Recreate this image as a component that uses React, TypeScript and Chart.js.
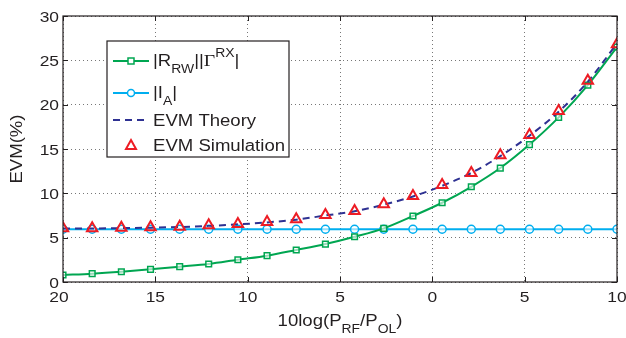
import React, { useEffect, useRef } from "react";
import { Chart, registerables } from "chart.js";

Chart.register(...registerables);

const xValues = [-20, -18.42, -16.84, -15.26, -13.68, -12.11, -10.53, -8.95, -7.37, -5.79, -4.21, -2.63, -1.05, 0.53, 2.11, 3.68, 5.26, 6.84, 8.42, 10];
const rrwGamma = [0.79, 0.94, 1.16, 1.43, 1.73, 2.03, 2.51, 2.97, 3.61, 4.28, 5.1, 6.05, 7.44, 8.94, 10.74, 12.85, 15.5, 18.57, 22.2, 26.5];
const iA = [5.95, 5.95, 5.95, 5.95, 5.95, 5.95, 5.95, 5.95, 5.95, 5.95, 5.95, 5.95, 5.95, 5.95, 5.95, 5.95, 5.95, 5.95, 5.95, 5.95];
const evmTheory = [6.02, 6.04, 6.08, 6.13, 6.2, 6.33, 6.5, 6.72, 7.03, 7.5, 7.98, 8.72, 9.65, 10.85, 12.3, 14.2, 16.5, 19.2, 22.6, 26.9];
const evmSim = [6.05, 6.05, 6.12, 6.17, 6.23, 6.39, 6.54, 6.76, 7.07, 7.55, 8.0, 8.76, 9.7, 10.94, 12.3, 14.3, 16.57, 19.28, 22.7, 26.8];
const xTicks = [-20, -15, -10, -5, 0, 5, 10];
const xTickLabels = ["20", "15", "10", "5", "0", "5", "10"];
const yTicks = [0, 5, 10, 15, 20, 25, 30];
const yTickLabels = ["0", "5", "10", "15", "20", "25", "30"];

const GREEN = "#00a651";
const CYAN = "#00aeef";
const NAVY = "#2e3192";
const RED = "#ed1c24";
const SANS = "'Liberation Sans', Arial, Helvetica, sans-serif";
const SERIF = "'Liberation Serif', 'Times New Roman', serif";
const SX = 1.16;

type Seg = { t: string; size: number; dy: number; serif?: boolean };

function segWidth(ctx: CanvasRenderingContext2D, segs: Seg[]) {
  let w = 0;
  for (const s of segs) {
    ctx.font = `${s.size}px ${s.serif ? SERIF : SANS}`;
    w += ctx.measureText(s.t).width;
  }
  return w * SX;
}

function drawSegs(ctx: CanvasRenderingContext2D, segs: Seg[], x: number, y: number, align: "left" | "center" | "right") {
  const w = segWidth(ctx, segs);
  let sx = x;
  if (align === "center") sx = x - w / 2;
  if (align === "right") sx = x - w;
  ctx.save();
  ctx.translate(sx, y);
  ctx.scale(SX, 1);
  ctx.textAlign = "left";
  ctx.textBaseline = "alphabetic";
  ctx.fillStyle = "#231f20";
  let cx = 0;
  for (const s of segs) {
    ctx.font = `${s.size}px ${s.serif ? SERIF : SANS}`;
    ctx.fillText(s.t, cx, s.dy);
    cx += ctx.measureText(s.t).width;
  }
  ctx.restore();
}

const overlay = {
  id: "overlay",
  afterDraw(chart: any) {
    const ctx: CanvasRenderingContext2D = chart.ctx;
    const { left, right, top, bottom } = chart.chartArea;
    const xs = chart.scales.x;
    const ys = chart.scales.y;
    ctx.save();
    ctx.strokeStyle = "#231f20";
    ctx.lineWidth = 1.2;
    ctx.strokeRect(left, top, right - left, bottom - top);
    ctx.lineWidth = 1;
    xTicks.forEach((v) => {
      const px = Math.round(xs.getPixelForValue(v)) + 0.5;
      ctx.beginPath();
      ctx.moveTo(px, bottom);
      ctx.lineTo(px, bottom - 5);
      ctx.moveTo(px, top);
      ctx.lineTo(px, top + 5);
      ctx.stroke();
    });
    yTicks.forEach((v) => {
      const py = Math.round(ys.getPixelForValue(v)) + 0.5;
      ctx.beginPath();
      ctx.moveTo(left, py);
      ctx.lineTo(left + 5, py);
      ctx.moveTo(right, py);
      ctx.lineTo(right - 5, py);
      ctx.stroke();
    });
    xTicks.forEach((v, i) => {
      const off = i === 0 ? -4 : 0;
      drawSegs(ctx, [{ t: xTickLabels[i], size: 15, dy: 0 }], xs.getPixelForValue(v) + off, bottom + 20, "center");
    });
    yTicks.forEach((v, i) => {
      drawSegs(ctx, [{ t: yTickLabels[i], size: 15, dy: 0 }], left - 4, ys.getPixelForValue(v) + 5.5, "right");
    });
    drawSegs(
      ctx,
      [
        { t: "10log(P", size: 16, dy: 0 },
        { t: "RF", size: 12, dy: 7 },
        { t: "/P", size: 16, dy: 0 },
        { t: "OL", size: 12, dy: 7 },
        { t: ")", size: 16, dy: 0 },
      ],
      (left + right) / 2,
      bottom + 44,
      "center"
    );
    ctx.save();
    ctx.translate(22, (top + bottom) / 2);
    ctx.rotate(-Math.PI / 2);
    drawSegs(ctx, [{ t: "EVM(%)", size: 16, dy: 0 }], 0, 0, "center");
    ctx.restore();

    // legend
    const lx = left + 44;
    const ly = top + 25;
    const lw = 182;
    const lh = 116;
    ctx.fillStyle = "#ffffff";
    ctx.fillRect(lx, ly, lw, lh);
    ctx.strokeStyle = "#231f20";
    ctx.lineWidth = 1.2;
    ctx.strokeRect(lx, ly, lw, lh);
    const x0 = lx + 6;
    const x1 = lx + 42;
    const xm = (x0 + x1) / 2;
    const tx = lx + 46;
    const rows = [ly + 20, ly + 52, ly + 79, ly + 104];
    ctx.strokeStyle = GREEN;
    ctx.lineWidth = 2;
    ctx.beginPath();
    ctx.moveTo(x0, rows[0]);
    ctx.lineTo(x1, rows[0]);
    ctx.stroke();
    ctx.fillStyle = "#ffffff";
    ctx.lineWidth = 1.5;
    ctx.fillRect(xm - 3, rows[0] - 3, 6, 6);
    ctx.strokeRect(xm - 3, rows[0] - 3, 6, 6);
    ctx.strokeStyle = CYAN;
    ctx.lineWidth = 2;
    ctx.beginPath();
    ctx.moveTo(x0, rows[1]);
    ctx.lineTo(x1, rows[1]);
    ctx.stroke();
    ctx.lineWidth = 1.5;
    ctx.beginPath();
    ctx.arc(xm, rows[1], 3.5, 0, Math.PI * 2);
    ctx.fill();
    ctx.stroke();
    ctx.strokeStyle = NAVY;
    ctx.lineWidth = 2;
    ctx.setLineDash([7, 5]);
    ctx.beginPath();
    ctx.moveTo(x0, rows[2]);
    ctx.lineTo(x1, rows[2]);
    ctx.stroke();
    ctx.setLineDash([]);
    ctx.strokeStyle = RED;
    ctx.lineWidth = 2;
    ctx.beginPath();
    ctx.moveTo(xm, rows[3] - 5);
    ctx.lineTo(xm + 5, rows[3] + 4);
    ctx.lineTo(xm - 5, rows[3] + 4);
    ctx.closePath();
    ctx.stroke();
    drawSegs(
      ctx,
      [
        { t: "|R", size: 16, dy: 0 },
        { t: "RW", size: 12, dy: 7 },
        { t: "||", size: 16, dy: 0 },
        { t: "\u0393", size: 17, dy: 0, serif: true },
        { t: "RX", size: 12, dy: -9 },
        { t: "|", size: 16, dy: 0 },
      ],
      tx,
      rows[0] + 5,
      "left"
    );
    drawSegs(
      ctx,
      [
        { t: "|I", size: 16, dy: 0 },
        { t: "A", size: 12, dy: 7 },
        { t: "|", size: 16, dy: 0 },
      ],
      tx,
      rows[1] + 5,
      "left"
    );
    drawSegs(ctx, [{ t: "EVM Theory", size: 16, dy: 0 }], tx, rows[2] + 6, "left");
    drawSegs(ctx, [{ t: "EVM Simulation", size: 16, dy: 0 }], tx, rows[3] + 6, "left");
    ctx.restore();
  },
};

export default function App() {
  const ref = useRef<HTMLCanvasElement | null>(null);
  useEffect(() => {
    if (!ref.current) return;
    const pts = (arr: number[]) => xValues.map((x, i) => ({ x, y: arr[i] }));
    const chart = new Chart(ref.current, {
      type: "line",
      data: {
        datasets: [
          {
            label: "EVM Simulation",
            data: pts(evmSim),
            showLine: false,
            borderColor: RED,
            backgroundColor: "rgba(0,0,0,0)",
            pointStyle: "triangle",
            pointRadius: 6,
            pointBorderWidth: 2,
            pointBorderColor: RED,
            pointBackgroundColor: "rgba(0,0,0,0)",
          },
          {
            label: "EVM Theory",
            data: pts(evmTheory),
            borderColor: NAVY,
            borderWidth: 2,
            borderDash: [7, 5],
            pointRadius: 0,
            cubicInterpolationMode: "monotone",
          },
          {
            label: "|RRW||ΓRX|",
            data: pts(rrwGamma),
            borderColor: GREEN,
            borderWidth: 2,
            pointStyle: "rect",
            pointRadius: 4,
            pointBorderWidth: 1.5,
            pointBorderColor: GREEN,
            pointBackgroundColor: "rgba(255,255,255,0.6)",
            cubicInterpolationMode: "monotone",
          },
          {
            label: "|IA|",
            data: pts(iA),
            borderColor: CYAN,
            borderWidth: 2,
            pointStyle: "circle",
            pointRadius: 4,
            pointBorderWidth: 1.5,
            pointBorderColor: CYAN,
            pointBackgroundColor: "rgba(255,255,255,0.6)",
          },
        ],
      },
      options: {
        animation: false,
        responsive: false,
        maintainAspectRatio: false,
        layout: { padding: { left: 63, top: 16, right: 9, bottom: 56 } },
        plugins: { legend: { display: false }, tooltip: { enabled: false } },
        scales: {
          x: {
            type: "linear",
            min: -20,
            max: 10,
            ticks: { display: false, stepSize: 5 },
            border: { display: false, dash: [1, 3] } as any,
            grid: { color: "#777777", lineWidth: 1, drawTicks: false } as any,
            afterFit: (s: any) => {
              s.height = 0;
            },
          },
          y: {
            type: "linear",
            min: 0,
            max: 30,
            ticks: { display: false, stepSize: 5 },
            border: { display: false, dash: [1, 3] } as any,
            grid: { color: "#777777", lineWidth: 1, drawTicks: false } as any,
            afterFit: (s: any) => {
              s.width = 0;
            },
          },
        },
      },
      plugins: [overlay],
    });
    return () => chart.destroy();
  }, []);
  return (
    <div style={{ position: "fixed", left: 0, top: 0, width: 626, height: 338, background: "#fff" }}>
      <canvas ref={ref} width={626} height={338} style={{ display: "block", width: 626, height: 338 }} />
    </div>
  );
}
